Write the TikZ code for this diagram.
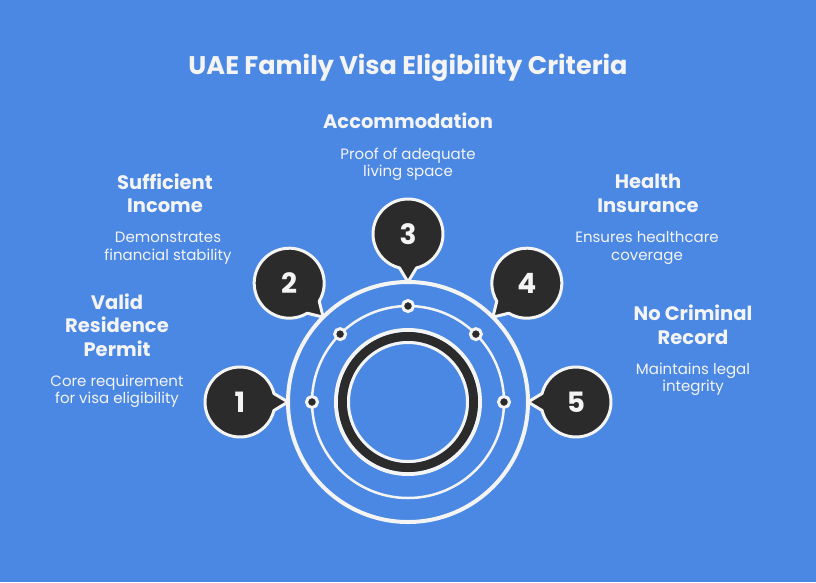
\documentclass[tikz,border=0pt]{standalone}
\usepackage{fontspec}
\setmainfont{Poppins}
\usetikzlibrary{calc}
\definecolor{bg}{HTML}{4A88E3}
\definecolor{ink}{HTML}{2B2B2B}
\definecolor{wht}{HTML}{F4F4F4}
\tikzset{
  titletext/.style={text=wht, font=\bfseries\fontsize{25.5}{30}\selectfont, inner sep=0pt},
  head/.style={text=wht, font=\bfseries\fontsize{19.5}{23.5}\selectfont, align=center, inner sep=0pt},
  desc/.style={text=wht, font=\fontsize{15}{17.5}\selectfont, align=center, inner sep=0pt},
  bubble/.style={fill=ink, draw=wht, line width=3pt, line join=round},
  num/.style={text=wht, font=\bfseries\fontsize{28}{28}\selectfont, inner sep=0pt},
  dot/.style={circle, fill=ink, draw=wht, line width=3pt, minimum size=11pt, inner sep=0pt},
}
\begin{document}
\begin{tikzpicture}[x=1pt,y=-1pt]
\fill[bg] (0,0) rectangle (816,582);
\path[use as bounding box] (0,0) rectangle (816,582);
\coordinate (O) at (408,402);
% rings
\draw[wht, line width=4pt] (O) circle[radius=120pt];
\draw[wht, line width=2.5pt] (O) circle[radius=96pt];
\draw[wht, line width=4pt] (O) circle[radius=72pt];
\draw[ink, line width=9pt] (O) circle[radius=65.5pt];
\draw[wht, line width=3pt] (O) circle[radius=59.5pt];
% dots and bubbles
\foreach \a/\n in {180/1,135/2,90/3,45/4,0/5}{
  \node[dot] (d\n) at ($(O)+(\a:96pt)$) {};
  \coordinate (t\n) at ($(O)+(\a:120pt)$);
  \coordinate (c\n) at ($(O)+(\a:168pt)$);
  \begin{scope}[shift={(c\n)}, rotate=\a+180]
    \draw[bubble] (14:35pt) arc[start angle=14, end angle=346, radius=35pt] -- (0:48pt) -- cycle;
  \end{scope}
  \node[num] (b\n) at (c\n) {\n};
}
% texts
\node[titletext] (title) at (408,68) {UAE Family Visa Eligibility Criteria};
\node[head] (h3) at (408,121) {Accommodation};
\node[desc] (s3) at (408,164.5) {Proof of adequate\\living space};
\node[head] (h2) at (165,193.5) {Sufficient\\Income};
\node[desc] (s2) at (168,248) {Demonstrates\\financial stability};
\node[head] (h1) at (117,325) {Valid\\Residence\\Permit};
\node[desc] (s1) at (117,391.5) {Core requirement\\for visa eligibility};
\node[head] (h4) at (648,193.5) {Health\\Insurance};
\node[desc] (s4) at (647,248) {Ensures healthcare\\coverage};
\node[head] (h5) at (693,325) {No Criminal\\Record};
\node[desc] (s5) at (693,379.5) {Maintains legal\\integrity};
\end{tikzpicture}
\end{document}
